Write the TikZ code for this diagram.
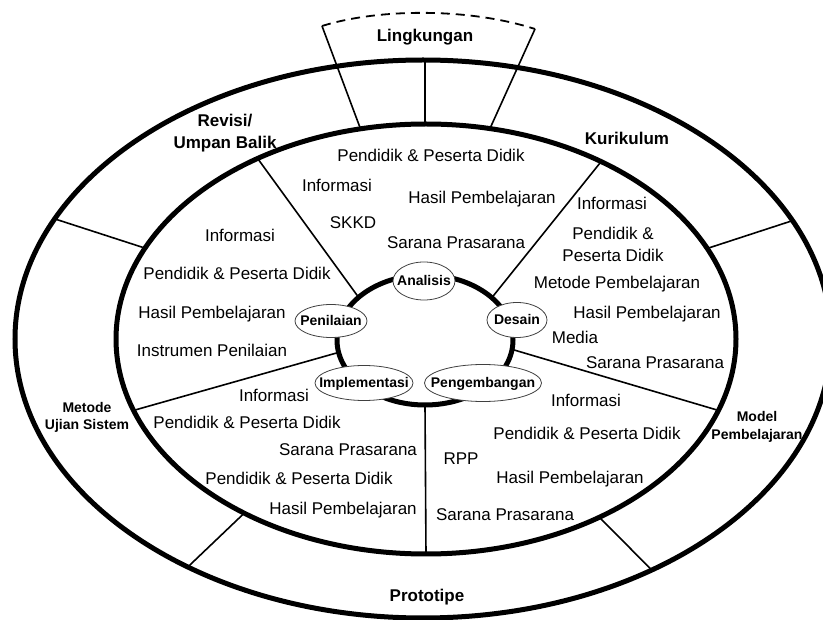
\documentclass[tikz,border=0pt]{standalone}
\usepackage{fontspec}
\setmainfont{Liberation Sans}
\usetikzlibrary{calc}
\begin{document}
\begin{tikzpicture}[x=1pt,y=-1pt,
  thickline/.style={line width=5pt},
  spoke/.style={line width=1.6pt},
  txt/.style={font=\fontsize{17}{20}\selectfont, inner sep=0pt, text height=12.2pt, text depth=0pt},
  big/.style={font=\fontsize{17}{20}\selectfont\bfseries, inner sep=0pt, text height=12.2pt, text depth=0pt},
  small/.style={font=\fontsize{14}{16}\selectfont\bfseries, inner sep=0pt, text height=10pt, text depth=0pt},
  phase/.style={draw=black!75, line width=0.8pt, fill=white},
]
\useasboundingbox (0,0) rectangle (823,620);
% centres
\coordinate (Oc) at (423,339);
\coordinate (Ic) at (426,339);
\coordinate (Rc) at (425,340);
% spokes: ring -> inner ellipse
\coordinate (r1) at ($(Rc)+(-139:88 and 65)$);
\coordinate (i1) at ($(Ic)+(-122.9:310 and 215)$);
\coordinate (r2) at ($(Rc)+(-40.6:88 and 65)$);
\coordinate (i2) at ($(Ic)+(-55.6:310 and 215)$);
\coordinate (r3) at ($(Rc)+(8.3:88 and 65)$);
\coordinate (i3) at ($(Ic)+(19.4:310 and 215)$);
\coordinate (r4) at ($(Rc)+(169:88 and 65)$);
\coordinate (i4) at ($(Ic)+(160.6:310 and 215)$);
\coordinate (r5) at ($(Rc)+(90:88 and 65)$);
\coordinate (i5) at ($(Ic)+(90:310 and 215)$);
\draw[spoke] (r1) -- (i1);
\draw[spoke] (r2) -- (i2);
\draw[spoke] (r3) -- (i3);
\draw[spoke] (r4) -- (i4);
\draw[spoke] (r5) -- (i5);
% outer ring dividers
\coordinate (a1) at ($(Ic)+(-155:310 and 215)$);
\coordinate (b1) at ($(Oc)+(-154.5:408 and 279)$);
\coordinate (a2) at ($(Ic)+(-24.9:310 and 215)$);
\coordinate (b2) at ($(Oc)+(-25.1:408 and 279)$);
\coordinate (a3) at ($(Ic)+(125.9:310 and 215)$);
\coordinate (b3) at ($(Oc)+(125.2:408 and 279)$);
\coordinate (a4) at ($(Ic)+(56:310 and 215)$);
\coordinate (b4) at ($(Oc)+(55.9:408 and 279)$);
\coordinate (a5) at (425,124);
\coordinate (b5) at (425,60);
\draw[spoke] (a1) -- (b1);
\draw[spoke] (a2) -- (b2);
\draw[spoke] (a3) -- (b3);
\draw[spoke] (a4) -- (b4);
\draw[spoke] (a5) -- (b5);
% Lingkungan frame
\coordinate (L1) at (322,26);
\coordinate (L2) at (535,29);
\coordinate (La) at ($(Ic)+(-102.2:310 and 215)$);
\coordinate (Lb) at ($(Ic)+(-78.1:310 and 215)$);
\draw[spoke] (L1) -- (La);
\draw[spoke] (L2) -- (Lb);
\draw[line width=1.8pt, dash pattern=on 9pt off 6pt] (L1) .. controls (380,8) and (470,8) .. (L2);
% ellipses
\draw[thickline] (Oc) ellipse [x radius=408, y radius=279];
\draw[thickline] (Ic) ellipse [x radius=310, y radius=215];
\draw[thickline] (Rc) ellipse [x radius=88, y radius=65];
% phases
\draw[phase] (424,281) ellipse [x radius=31, y radius=19];
\node[small] (analisis) at (424,281) {Analisis};
\draw[phase] (331,321) ellipse [x radius=36, y radius=16.5];
\node[small] (penilaian) at (331,321) {Penilaian};
\draw[phase] (517,320) ellipse [x radius=30, y radius=17.5];
\node[small] (desain) at (517,320) {Desain};
\draw[phase] (364,383) ellipse [x radius=49, y radius=17.5];
\node[small] (implementasi) at (364,383) {Implementasi};
\draw[phase] (483,383) ellipse [x radius=58.5, y radius=18.5];
\node[small] (pengembangan) at (483,383) {Pengembangan};
% outer ring labels
\node[big] (lingkungan) at (425,35) {Lingkungan};
\node[big] (revisiA) at (225,120) {Revisi/};
\node[big] (revisiB) at (225,142) {Umpan Balik};
\node[big] (kurikulum) at (627,138) {Kurikulum};
\node[big] (prototipe) at (427,595) {Prototipe};
\node[small] (metodeA) at (87,408) {Metode};
\node[small] (metodeB) at (87,425) {Ujian Sistem};
\node[small] (modelA) at (757,417) {Model};
\node[small] (modelB) at (757,435) {Pembelajaran};
% top sector
\node[txt] (t1) at (431,155) {Pendidik \& Peserta Didik};
\node[txt] (t2) at (337,185) {Informasi};
\node[txt] (t3) at (482,197) {Hasil Pembelajaran};
\node[txt] (t4) at (353,222) {SKKD};
\node[txt] (t5) at (456,242) {Sarana Prasarana};
% left sector
\node[txt] (l1) at (240,235) {Informasi};
\node[txt] (l2) at (237,273) {Pendidik \& Peserta Didik};
\node[txt] (l3) at (212,312) {Hasil Pembelajaran};
\node[txt] (l4) at (212,350) {Instrumen Penilaian};
% right sector
\node[txt] (d1) at (612,203) {Informasi};
\node[txt] (d2a) at (613,233) {Pendidik \&};
\node[txt] (d2b) at (613,255) {Peserta Didik};
\node[txt] (d3) at (617,282) {Metode Pembelajaran};
\node[txt] (d4) at (647,312) {Hasil Pembelajaran};
\node[txt] (d5) at (575,337) {Media};
\node[txt] (d6) at (655,362) {Sarana Prasarana};
% lower-left sector
\node[txt] (m1) at (274,395) {Informasi};
\node[txt] (m2) at (247,422) {Pendidik \& Peserta Didik};
\node[txt] (m3) at (348,449) {Sarana Prasarana};
\node[txt] (m4) at (299,478) {Pendidik \& Peserta Didik};
\node[txt] (m5) at (343,508) {Hasil Pembelajaran};
% lower-right sector
\node[txt] (p1) at (586,400) {Informasi};
\node[txt] (p2) at (587,433) {Pendidik \& Peserta Didik};
\node[txt] (p3) at (461,458) {RPP};
\node[txt] (p4) at (570,477) {Hasil Pembelajaran};
\node[txt] (p5) at (505,514) {Sarana Prasarana};
\end{tikzpicture}
\end{document}
